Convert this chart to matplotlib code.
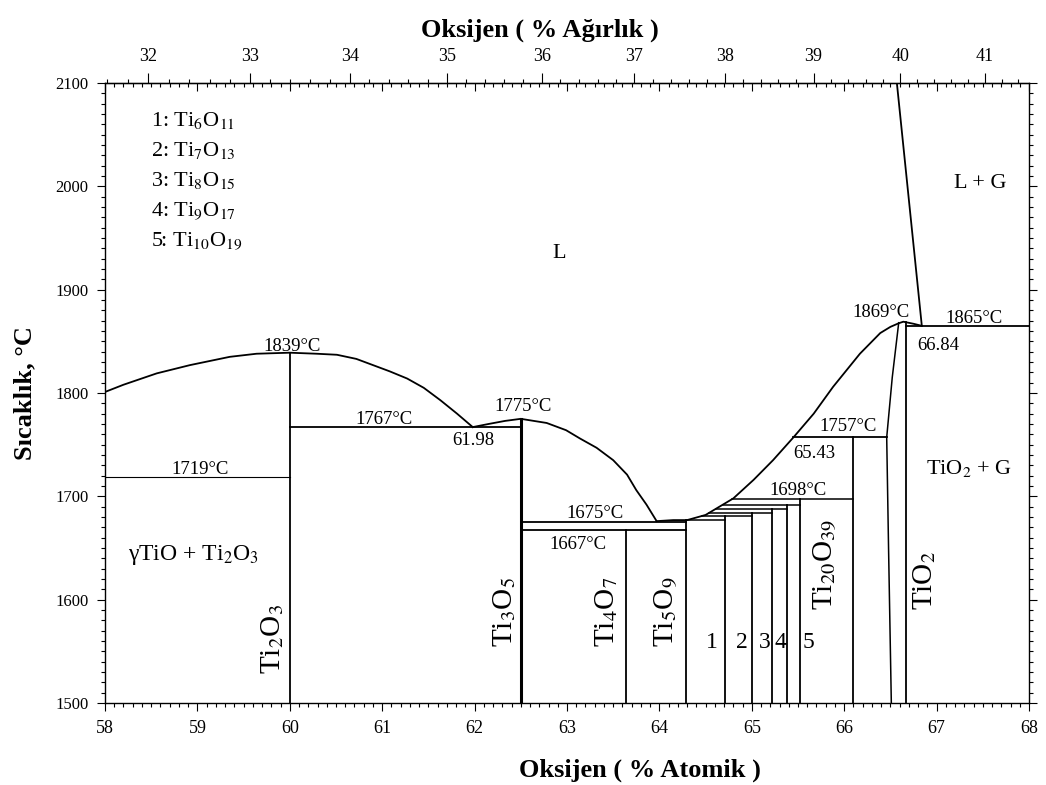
import matplotlib
matplotlib.use('Agg')
import matplotlib.pyplot as plt
from matplotlib.ticker import MultipleLocator, NullFormatter
import numpy as np

plt.rcParams['font.family'] = ['Liberation Serif', 'DejaVu Serif']
plt.rcParams['mathtext.fontset'] = 'stix'

# liquidus (atomic % O, degC)
liq_a_x = [58.0, 58.2, 58.56, 58.92, 59.35, 59.64, 60.0, 60.29, 60.51, 60.72,
           60.90, 61.08, 61.27, 61.45, 61.63, 61.81, 61.98]
liq_a_T = [1801, 1808, 1819, 1827, 1835, 1838, 1839, 1838, 1837, 1833,
           1827, 1821, 1814, 1805, 1793, 1780, 1767]
liq_b_x = [61.98, 62.15, 62.33, 62.5, 62.78, 62.99, 63.14, 63.32, 63.50,
           63.65, 63.75, 63.86, 63.97]
liq_b_T = [1767, 1770, 1773, 1775, 1771, 1764, 1756, 1747, 1735,
           1721, 1706, 1692, 1676]
liq_c_x = [63.97, 64.15, 64.30, 64.50, 64.80, 65.02, 65.23, 65.45, 65.67,
           65.88, 66.17, 66.39, 66.50, 66.59, 66.64, 66.75, 66.84]
liq_c_T = [1676, 1677, 1677, 1682, 1698, 1716, 1735, 1757, 1780,
           1806, 1838, 1858, 1864, 1867.5, 1869, 1867, 1865]

gas_x = [66.84, 66.57]
gas_T = [1865, 2100]
sol_x = [66.51, 66.48, 66.46, 66.52, 66.59]
sol_T = [1500, 1650, 1757, 1815, 1868]

# compound lines
phase_x = [60.0, 62.5, 63.64, 64.29, 64.71, 65.0, 65.22, 65.38, 65.52, 66.10, 66.67]
phase_top = [1839, 1775, 1667, 1677, 1681, 1684, 1688, 1692, 1697, 1757, 1869]

# invariant lines
iso_T = [1719, 1767, 1675, 1667, 1757, 1865]
iso_x0 = [58.0, 60.0, 62.5, 62.5, 65.45, 66.67]
iso_x1 = [60.0, 62.5, 64.29, 64.29, 66.46, 68.0]
# peritectics of the Magneli series: from liquidus to the next compound
perit_T = [1677, 1681, 1684, 1688, 1692, 1697]
perit_end = [64.71, 65.0, 65.22, 65.38, 65.52, 66.10]

legend_lines = ['1: Ti$_6$O$_{11}$', '2: Ti$_7$O$_{13}$', '3: Ti$_8$O$_{15}$',
                '4: Ti$_9$O$_{17}$', '5: Ti$_{10}$O$_{19}$']
legend_T = [2058, 2029, 2000, 1971, 1942]

temp_labels = ['1839°C', '1767°C', '1775°C', '1719°C', '1675°C', '1667°C',
               '1698°C', '1757°C', '1869°C', '1865°C']
temp_x = [60.02, 61.02, 62.53, 59.03, 63.30, 63.12, 65.50, 66.04, 66.40, 67.41]
temp_T = [1841, 1770, 1783, 1722, 1679, 1649, 1701, 1763, 1874, 1868]

comp_labels = ['61.98', '65.43', '66.84']
comp_x = [61.99, 65.68, 67.02]
comp_T = [1754, 1741, 1846]

rot_labels = ['Ti$_2$O$_3$', 'Ti$_3$O$_5$', 'Ti$_4$O$_7$', 'Ti$_5$O$_9$',
              'Ti$_{20}$O$_{39}$', 'TiO$_2$']
rot_x = [59.81, 62.33, 63.43, 64.08, 65.80, 66.87]
rot_T = [1528, 1554, 1554, 1554, 1590, 1590]

num_labels = ['1', '2', '3', '4', '5']
num_x = [64.57, 64.89, 65.14, 65.31, 65.61]


def at2wt(a):
    a = np.asarray(a, dtype=float)
    return 100 * 16 * a / (16 * a + 47.867 * (100 - a))


def wt2at(w):
    w = np.asarray(w, dtype=float)
    return 100 * 47.867 * w / (16 * (100 - w) + 47.867 * w)


fig = plt.figure(figsize=(10.46, 7.85), dpi=100)
ax = fig.add_axes([105 / 1046, 1 - 703 / 785, 924 / 1046, 620 / 785])

lc = 'black'
ax.plot(liq_a_x, liq_a_T, color=lc, lw=1.3)
ax.plot(liq_b_x, liq_b_T, color=lc, lw=1.3)
ax.plot(liq_c_x, liq_c_T, color=lc, lw=1.3)
ax.plot(gas_x, gas_T, color=lc, lw=1.3)
ax.plot(sol_x, sol_T, color=lc, lw=1.1)

for x, t in zip(phase_x, phase_top):
    w = 2.2 if x == 62.5 else 1.3
    ax.plot([x, x], [1500, t], color=lc, lw=w)

for t, x0, x1 in zip(iso_T, iso_x0, iso_x1):
    w = 0.8 if t == 1719 else 1.3
    ax.plot([x0, x1], [t, t], color=lc, lw=w)

for t, x1 in zip(perit_T, perit_end):
    x0 = np.interp(t, liq_c_T[:5], liq_c_x[:5])
    ax.plot([x0, x1], [t, t], color=lc, lw=1.1)

ax.set_xlim(58, 68)
ax.set_ylim(1500, 2100)
ax.set_xticks(range(58, 69))
ax.set_yticks(range(1500, 2101, 100))
ax.xaxis.set_minor_locator(MultipleLocator(0.1))
ax.yaxis.set_minor_locator(MultipleLocator(10))
ax.tick_params(which='both', direction='out', right=True, top=False,
               labelright=False, width=0.8)
ax.tick_params(which='major', length=6)
ax.tick_params(which='minor', length=3)
ax.tick_params(axis='x', labelsize=13, pad=6)
ax.tick_params(axis='y', labelsize=12, pad=6)
for s in ax.spines.values():
    s.set_linewidth(1.0)

# mirrored atomic ticks on top (inward)
top_in = ax.secondary_xaxis('top')
top_in.set_xticks(range(58, 69))
top_in.xaxis.set_minor_locator(MultipleLocator(0.1))
top_in.xaxis.set_major_formatter(NullFormatter())
top_in.tick_params(which='both', direction='in', width=0.8)
top_in.tick_params(which='major', length=6)
top_in.tick_params(which='minor', length=3)

# weight percent axis
top_wt = ax.secondary_xaxis('top', functions=(at2wt, wt2at))
top_wt.set_xticks(range(32, 42))
top_wt.xaxis.set_minor_locator(MultipleLocator(0.2))
top_wt.tick_params(which='both', direction='out', width=0.8, labelsize=13, pad=6)
top_wt.tick_params(which='major', length=7)
top_wt.tick_params(which='minor', length=3)

# texts
for s, t in zip(legend_lines, legend_T):
    ax.text(58.5, t, s, fontsize=16, ha='left', va='baseline')
for s, x, t in zip(temp_labels, temp_x, temp_T):
    ax.text(x, t, s, fontsize=13.5, ha='center', va='baseline')
for s, x, t in zip(comp_labels, comp_x, comp_T):
    ax.text(x, t, s, fontsize=13.5, ha='center', va='center')
for s, x, t in zip(rot_labels, rot_x, rot_T):
    ax.text(x, t, s, fontsize=21, rotation=90, ha='center', va='bottom')
for s, x in zip(num_labels, num_x):
    ax.text(x, 1559, s, fontsize=17, ha='center', va='center')

ax.text(62.92, 1935, 'L', fontsize=16, ha='center', va='center')
ax.text(67.47, 2003, 'L + G', fontsize=16, ha='center', va='center')
ax.text(66.89, 1727, 'TiO$_2$ + G', fontsize=16, ha='left', va='center')
ax.text(58.25, 1643, 'γTiO + Ti$_2$O$_3$', fontsize=17, ha='left', va='center')

fig.text(0.612, 0.019, 'Oksijen ( % Atomik )', fontsize=19, fontweight='bold',
         ha='center', va='center')
fig.text(0.516, 0.962, 'Oksijen ( % Ağırlık )', fontsize=19, fontweight='bold',
         ha='center', va='center')
fig.text(0.024, 0.499, 'Sıcaklık, °C', fontsize=19, fontweight='bold',
         rotation=90, ha='center', va='center')

fig.savefig('out.png', dpi=100, facecolor='white')
